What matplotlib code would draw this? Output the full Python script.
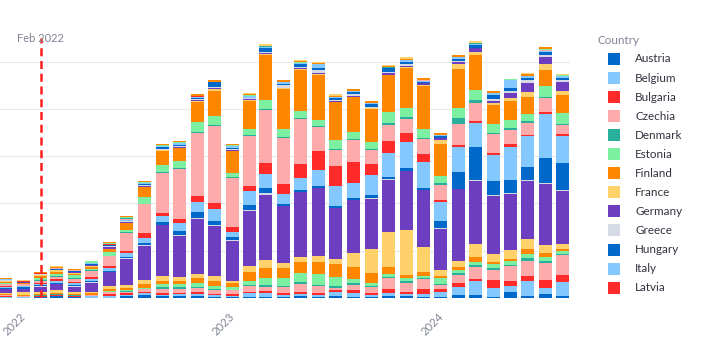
import matplotlib
matplotlib.use("Agg")
import matplotlib.pyplot as plt
import matplotlib.dates as mdates
from matplotlib.patches import Rectangle
from datetime import datetime
import numpy as np

# ---------------- data ----------------
months = ["2021-12",
          "2022-01", "2022-02", "2022-03", "2022-04", "2022-05", "2022-06",
          "2022-07", "2022-08", "2022-09", "2022-10", "2022-11", "2022-12",
          "2023-01", "2023-02", "2023-03", "2023-04", "2023-05", "2023-06",
          "2023-07", "2023-08", "2023-09", "2023-10", "2023-11", "2023-12",
          "2024-01", "2024-02", "2024-03", "2024-04", "2024-05", "2024-06",
          "2024-07", "2024-08"]

countries = ["Austria", "Belgium", "Bulgaria", "Czechia", "Denmark", "Estonia",
             "Finland", "France", "Germany", "Greece", "Hungary", "Italy",
             "Latvia", "Lithuania", "Luxembourg", "Malta", "Netherlands",
             "Norway", "Poland", "Portugal", "Romania", "Slovakia", "Slovenia",
             "Spain", "Sweden", "Switzerland", "Türkiye", "United Kingdom"]

austria = [0.3,0.3,0.7,2.0,0.7,0.5,0.5,1.7,2.7,2.0,1.7,2.0,1.3,1.2,1.0,1.0,1.0,2.0,1.0,2.0,1.0,1.0,2.0,2.0,1.3,1.0,3.0,3.0,1.0,6.0,2.0,4.0,2.0]
belgium = [0.5,0.3,0.5,0.5,0.5,1.5,2.0,1.7,2.0,1.3,2.0,1.7,1.3,1.1,3.7,4.0,2.0,2.0,2.0,4.0,4.0,2.0,3.0,2.0,2.7,5.0,8.0,14.0,9.0,6.0,15.0,6.0,14.0]
bulgaria = [1.5,0.3,0.5,0.3,0.7,0.5,1.3,1.3,1.3,1.3,1.7,2.0,1.3,2.0,1.3,2.0,2.0,2.0,2.0,2.0,3.0,2.0,4.0,2.0,5.0,3.0,4.0,2.0,8.0,5.0,5.0,8.0,7.0]
czechia = [0.5,1.0,0.5,0.5,0.5,0.5,2.0,1.3,3.0,4.7,4.0,4.7,3.7,3.3,6.0,4.0,6.0,8.0,7.0,2.0,5.0,6.0,11.0,9.0,10.0,4.0,8.0,12.0,10.0,15.0,15.0,17.0,20.0]
denmark = [0.3,0.2,0.5,0.3,0.3,0.2,0.6,1.0,0.5,1.3,1.3,1.0,1.3,0.5,1.0,2.0,1.0,2.0,1.0,2.0,2.0,1.0,1.0,2.0,1.0,1.0,2.0,2.0,2.0,1.0,3.0,2.0,1.0]
estonia = [0.3,0.2,0.3,0.3,0.3,0.3,0.7,1.0,0.8,3.0,3.3,4.0,3.3,3.3,4.0,7.0,8.0,9.0,11.0,9.0,4.0,3.0,3.0,3.0,2.0,6.0,3.0,3.0,4.0,4.0,4.0,4.0,3.0]
finland = [0.7,0.7,1.0,1.0,1.0,1.5,2.0,2.0,4.0,3.7,3.0,5.0,4.7,4.0,9.0,10.0,10.0,11.0,12.0,13.0,12.0,10.0,7.0,3.0,4.0,2.0,3.0,5.0,2.0,2.0,5.0,4.0,2.0]
france = [1.0,3.5,2.5,3.3,2.0,1.5,2.7,2.7,3.3,5.0,4.3,3.7,5.3,2.0,6.0,8.0,5.0,5.0,6.0,5.0,14.0,24.0,35.0,45.0,25.0,6.0,6.0,13.0,8.0,9.0,10.0,8.0,5.0]
germany = [3.5,2.5,5.0,5.5,5.3,9.0,14.0,26.7,34.7,50.3,41.0,55.0,50.0,40.0,55.0,65.0,57.0,65.0,68.0,51.0,53.0,50.0,52.0,59.0,57.0,41.0,72.0,63.0,58.0,56.0,58.0,61.0,53.0]
greece = [0.5,0.3,0.3,0.3,0.3,0.3,0.3,0.7,0.3,0.5,1.0,1.3,1.3,0.7,1.0,2.0,0.5,0.3,0.3,0.3,0.3,1.0,1.0,0.3,0.3,1.0,0.5,1.0,1.0,1.0,1.0,1.0,1.0]
hungary = [1.0,1.3,1.3,1.5,1.3,1.7,1.0,1.3,2.0,2.7,4.0,6.0,3.7,3.3,5.0,5.0,2.0,2.0,2.0,2.0,2.0,3.0,2.0,3.0,2.0,7.0,17.0,33.0,14.0,13.0,13.0,25.0,27.0]
italy = [1.0,1.0,1.0,2.0,2.5,1.7,3.3,4.0,5.0,6.0,8.0,10.0,11.7,4.7,14.0,14.0,10.0,12.0,16.0,20.0,15.0,20.0,24.0,26.0,26.0,19.0,25.0,24.0,25.7,33.0,31.0,44.0,27.0]
latvia = [0.5,0.3,0.7,1.7,1.0,1.5,2.0,2.0,5.0,3.0,4.0,6.0,6.0,5.0,5.0,11.3,10.0,14.0,19.0,20.0,21.0,11.0,12.0,9.0,8.0,2.0,2.0,2.0,2.0,3.0,1.0,2.0,2.0]
lithuania = [2.5,1.8,2.5,2.0,2.7,6.7,9.5,17.3,29.0,40.0,50.0,62.7,76.7,49.0,50.0,52.7,46.0,45.0,24.0,16.0,22.0,14.3,16.0,14.0,15.0,15.0,21.0,18.0,19.7,14.0,12.0,14.0,9.0]
luxembourg = [0.3,0.2,0.3,1.0,0.7,0.3,0.3,1.0,0.5,1.3,1.0,0.7,1.3,0.5,1.0,1.0,1.0,1.0,1.0,0.3,0.3,1.0,2.0,2.0,1.0,2.0,6.0,3.0,0.3,2.0,2.0,1.0,1.0]
malta = [0.5,0.4,2.5,1.8,3.0,1.0,4.0,2.7,7.0,6.7,6.3,10.0,9.3,4.0,5.7,9.0,8.0,7.0,6.0,9.0,7.0,6.7,11.0,9.0,9.0,7.0,10.0,10.0,9.7,8.0,7.0,11.0,11.0]
netherlands = [1.5,0.8,2.3,2.3,1.7,2.7,2.7,6.3,9.7,14.7,13.3,20.7,25.0,22.0,28.7,45.0,40.0,41.0,45.0,38.3,35.0,33.3,37.0,40.0,42.3,32.0,39.0,35.0,19.0,19.0,17.0,16.0,18.0]
norway = [0.5,0.3,0.7,1.5,0.5,0.3,0.5,0.7,0.3,0.3,0.3,0.3,1.7,0.3,0.5,1.0,0.3,0.3,0.3,0.3,0.3,0.3,0.3,0.3,1.0,4.0,5.0,3.0,2.0,3.0,5.0,6.0,4.0]
poland = [0.3,0.2,0.3,0.3,0.7,1.3,2.0,0.5,0.5,0.5,0.5,1.0,1.0,1.0,1.0,1.0,0.3,1.5,1.0,1.0,1.0,0.7,1.3,1.0,2.5,2.0,2.0,4.0,2.0,5.0,9.0,7.0,9.0]
portugal = [0.5,0.3,0.3,0.3,0.3,0.3,0.7,1.0,1.0,1.0,1.2,1.2,1.0,1.0,1.0,1.0,3.0,0.5,3.0,0.3,2.0,1.0,1.7,2.7,0.3,0.3,0.3,0.3,2.0,2.0,3.0,2.0,2.0]
romania = [0.3,0.2,0.3,0.3,0.7,1.0,0.5,0.3,1.0,1.3,1.5,1.5,4.7,1.5,0.3,3.7,1.4,3.3,2.0,2.3,2.0,2.7,3.7,2.0,1.0,1.3,2.5,3.0,3.3,3.0,2.0,3.0,2.3]
slovakia = [0.6,0.3,0.3,0.3,0.3,0.3,0.8,1.0,1.2,1.2,1.5,1.0,0.3,1.5,1.5,1.3,1.3,1.2,4.0,1.0,1.0,1.0,0.3,1.3,1.0,1.0,1.5,1.0,2.3,8.0,2.0,1.0,1.7]
slovenia = [0.3,0.3,0.3,0.3,0.3,0.3,0.3,0.2,0.2,0.2,0.2,0.2,0.1,0.2,0.2,0.2,0.1,0.1,0.1,0.1,0.1,0.1,0.1,0.1,0.1,0.1,0.1,0.1,0.1,0.1,0.1,0.2,0.1]
spain = [0.2,0.3,0.2,0.3,0.3,0.3,0.5,1.0,0.2,0.3,0.2,0.4,0.2,0.2,0.3,0.3,0.2,0.2,0.2,0.1,0.1,0.1,0.1,0.1,0.1,0.1,0.1,0.1,0.1,0.1,0.1,1.0,0.1]
sweden = [0.2,0.1,0.1,0.2,0.2,0.2,0.2,0.2,0.2,0.1,0.1,0.1,0.1,0.1,0.1,0.1,0.1,0.1,0.1,0.1,0.1,0.1,0.1,0.1,0.1,0.1,0.1,0.1,0.1,0.1,0.1,0.2,0.1]
switzerland = [0.2,0.1,0.2,0.2,0.2,1.2,0.3,1.0,0.2,0.4,0.2,0.3,0.2,0.2,0.5,0.3,0.2,0.2,0.1,0.1,0.1,0.1,0.1,0.1,0.1,0.1,0.1,0.1,0.1,0.5,0.1,0.2,0.6]
turkiye = [0.3,0.3,1.0,1.3,1.0,0.2,1.3,1.0,1.3,1.0,1.3,1.3,1.5,1.3,1.0,0.3,1.7,1.7,1.0,0.3,2.0,1.7,1.7,0.7,2.0,1.7,2.0,0.3,1.7,0.1,2.0,2.3,0.1]
united_kingdom = [0.2,0.2,0.3,0.3,0.2,0.2,0.3,0.2,0.2,0.2,0.2,0.2,0.2,0.2,0.8,2.3,0.2,0.2,0.7,2.7,0.2,0.2,0.2,2.3,0.2,0.2,0.2,2.0,0.2,0.5,0.2,0.2,0.7]

series = [austria, belgium, bulgaria, czechia, denmark, estonia, finland, france,
          germany, greece, hungary, italy, latvia, lithuania, luxembourg, malta,
          netherlands, norway, poland, portugal, romania, slovakia, slovenia,
          spain, sweden, switzerland, turkiye, united_kingdom]

year_ticks = ["2022", "2023", "2024"]
event_date = "2022-02"
event_label = "Feb 2022"
legend_title = "Country"
legend_visible = 13

# ---------------- style ----------------
palette = ["#0068c9", "#83c9ff", "#ff2b2b", "#ffabab", "#29b09d",
           "#7defa1", "#ff8700", "#ffd16a", "#6d3fc0", "#d5dae5"]
FONT = "Lato"
plt.rcParams["font.family"] = [FONT, "DejaVu Sans"]

W, H = 702, 354
fig = plt.figure(figsize=(W / 100, H / 100), dpi=100)
ax_left, ax_right, ax_bottom, ax_top = 0, 570, 298, 18
ax = fig.add_axes([ax_left / W, 1 - ax_bottom / H,
                   (ax_right - ax_left) / W, (ax_bottom - ax_top) / H])

to_num = lambda s: mdates.date2num(datetime.strptime(s, "%Y-%m"))
x = np.array([to_num(m) for m in months])

bottom = np.zeros(len(months))
for i, (name, vals) in enumerate(zip(countries, series)):
    vals = np.asarray(vals, dtype=float)
    ax.bar(x, vals, bottom=bottom, width=22.7, color=palette[i % 10],
           linewidth=0, zorder=2, label=name)
    bottom += vals

ax.set_xlim(to_num("2021-12") - 9.5, to_num("2024-08") + 12.5)
ax.set_ylim(0, ax_bottom - ax_top)

# grid
step = 47.3
ax.set_yticks(np.arange(0, ax_bottom - ax_top, step))
ax.yaxis.grid(True, color="#e6e9ef", linewidth=0.8, zorder=0)
ax.tick_params(axis="y", length=0, labelleft=False)
ax.set_axisbelow(True)
for s in ax.spines.values():
    s.set_visible(False)

# x ticks
ax.set_xticks([mdates.date2num(datetime(int(y), 1, 1)) + 1.5 for y in year_ticks])
ax.set_xticklabels(year_ticks, rotation=45, ha="right", va="center",
                   rotation_mode="anchor", color="#808495", fontsize=8.2)
ax.tick_params(axis="x", length=0, pad=12)

# event line
ex = to_num(event_date)
ax.plot([ex, ex], [0, ax_bottom - 38], color="#ff1f1f", linewidth=1.8,
        dashes=(3.2, 1.9), zorder=5, solid_capstyle="butt")
ax.text(ex, ax_bottom - 38, event_label, ha="center", va="center",
        color="#808495", fontsize=8.0, zorder=6)

# legend (first visible entries, as in the reference)
fig.text(597 / W, 1 - 41 / H, legend_title, ha="left", va="center",
         color="#808495", fontsize=8.4)
for i in range(legend_visible):
    yc = 59 + i * 19.05
    fig.patches.append(Rectangle((608 / W, 1 - (yc + 6) / H), 12 / W, 12 / H,
                                 transform=fig.transFigure, color=palette[i % 10],
                                 linewidth=0))
    fig.text(635 / W, 1 - yc / H, countries[i], ha="left", va="center",
             color="#31333f", fontsize=8.4)

fig.savefig("out.png", dpi=100)
